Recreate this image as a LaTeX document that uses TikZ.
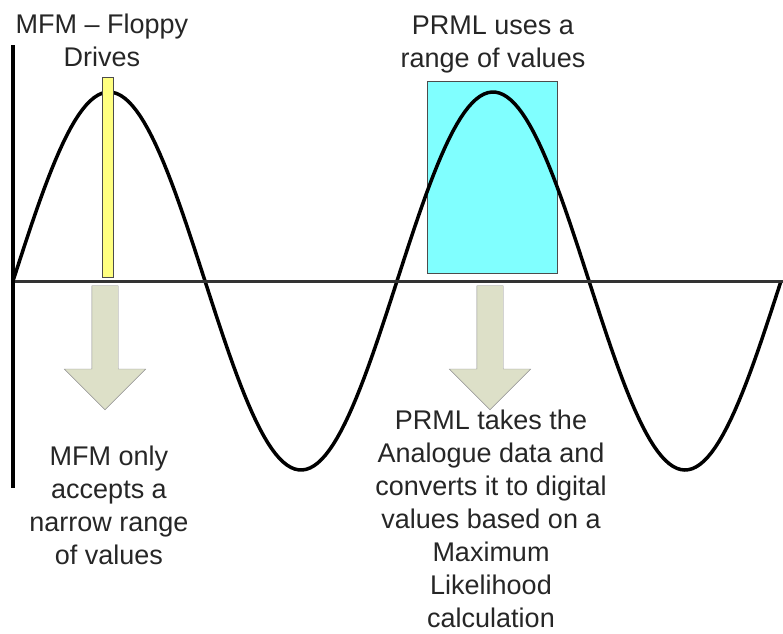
\documentclass[tikz,border=0pt]{standalone}
\usepackage{fontspec}
\setmainfont{Liberation Sans}
\usepackage{xcolor}
\usepackage{tikz}
\usetikzlibrary{shapes.arrows, positioning}
\definecolor{barYellow}{HTML}{FFFF80}
\definecolor{boxCyan}{HTML}{80FFFF}
\definecolor{arrowGrey}{HTML}{DDE0C8}
\tikzset{
  note/.style={align=center, font=\fontsize{27}{33}\selectfont, text=black!85, inner sep=0pt, anchor=base},
  window/.style={rectangle, draw=black!70, thin, inner sep=0pt},
  downarrow/.style={single arrow, draw=black!45, fill=arrowGrey, rotate=-90, anchor=tip, minimum height=124pt, inner xsep=0pt, inner ysep=13pt, single arrow head extend=27.5pt},
  wave/.style={line width=3.5pt},
}

\begin{document}
\begin{tikzpicture}[x=1pt, y=-1pt]
    \useasboundingbox (0,0) rectangle (783,633);
    \coordinate (top) at (13,45);
    \coordinate (bottom) at (13,488);
    \coordinate (origin) at (13,281);
    \coordinate (end) at (783,281);
    \node[window, fill=boxCyan, minimum width=130pt, minimum height=192pt] (prmlbox) at (492,177) {};
    \draw[wave] plot[domain=13:781, samples=200] (\x, {281-189*sin(0.9375*(\x-13))});
    \node[window, fill=barYellow, minimum width=11pt, minimum height=200pt] (mfmbar) at (107.5,177) {};
    \draw[line width=3pt, black!80] (origin) -- (end);
    \draw[line width=4.5pt] (top) -- (bottom);
    \node[downarrow] (mfmarrow) at (105,410) {};
    \node[downarrow] (prmlarrow) at (490,410) {};
    % anchor=base sits on the last line
    \node[note] (mfmtitle) at (102,66) {MFM – Floppy\\Drives};
    \node[note] (prmltitle) at (493,67) {PRML uses a\\range of values};
    \node[note] (mfmnote) at (109,564) {MFM only\\accepts a\\narrow range\\of values};
    \node[note] (prmlnote) at (491,627) {PRML takes the\\Analogue data and\\converts it to digital\\values based on a\\Maximum\\Likelihood\\calculation};
  \end{tikzpicture}
\end{document}
